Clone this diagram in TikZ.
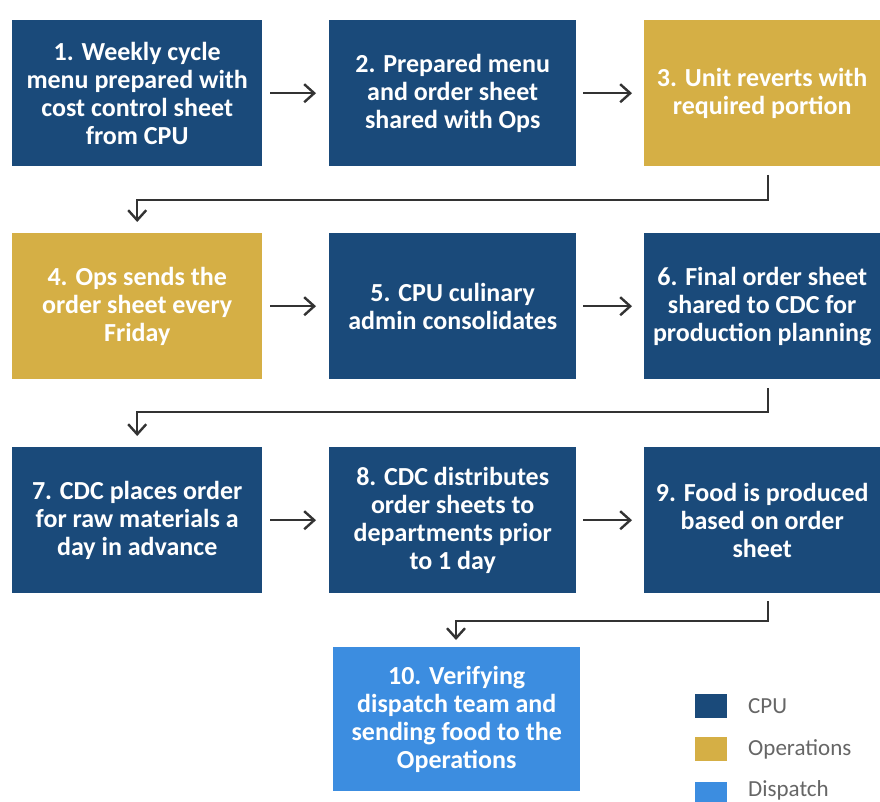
\documentclass[tikz,border=0pt]{standalone}
\usepackage{fontspec}
\setmainfont{Carlito}
\usetikzlibrary{arrows.meta}
\definecolor{cpu}{HTML}{1A4A7A}
\definecolor{ops}{HTML}{D5AF45}
\definecolor{disp}{HTML}{3C8DE0}
\definecolor{arrowgray}{HTML}{333333}
\definecolor{legtext}{HTML}{666666}
\begin{document}
\begin{tikzpicture}[x=1pt,y=-1pt,
  box/.style={anchor=north west, minimum height=146pt, inner sep=0pt, text=white,
    font=\bfseries\fontsize{26}{28}\selectfont, align=center},
  cpubox/.style={box, fill=cpu},
  opsbox/.style={box, fill=ops},
  dispbox/.style={box, fill=disp},
  conn/.style={line width=2.4pt, draw=arrowgray, -{Straight Barb[length=10pt,width=18pt,line width=2.4pt]}},
  legsq/.style={anchor=north west, minimum width=32pt, minimum height=24pt, inner sep=0pt},
  legtxt/.style={anchor=west, text=legtext, font=\fontsize{23}{26}\selectfont, inner sep=0pt}]
\useasboundingbox[fill=white] (0,0) rectangle (880,802);
% row 1
\node[cpubox, minimum width=250pt] (b1) at (12,20) {1. Weekly cycle\\menu prepared with\\cost control sheet\\from CPU};
\node[cpubox, minimum width=247pt] (b2) at (329,20) {2. Prepared menu\\and order sheet\\shared with Ops};
\node[opsbox, minimum width=236pt] (b3) at (644,20) {3. Unit reverts with\\required portion};
% row 2
\node[opsbox, minimum width=250pt] (b4) at (12,233) {4. Ops sends the\\order sheet every\\Friday};
\node[cpubox, minimum width=247pt] (b5) at (329,233) {5. CPU culinary\\admin consolidates};
\node[cpubox, minimum width=236pt] (b6) at (644,233) {6. Final order sheet\\shared to CDC for\\production planning};
% row 3
\node[cpubox, minimum width=250pt] (b7) at (12,447) {7. CDC places order\\for raw materials a\\day in advance};
\node[cpubox, minimum width=247pt] (b8) at (329,447) {8. CDC distributes\\order sheets to\\departments prior\\to 1 day};
\node[cpubox, minimum width=236pt] (b9) at (644,447) {9. Food is produced\\based on order\\sheet};
% row 4
\node[dispbox, minimum width=247pt, minimum height=144pt] (b10) at (333,647) {10. Verifying\\dispatch team and\\sending food to the\\Operations};
% horizontal connectors
\draw[conn, shorten <=8pt, shorten >=13pt] (b1) -- (b2);
\draw[conn, shorten <=7pt, shorten >=12pt] (b2) -- (b3);
\draw[conn, shorten <=8pt, shorten >=13pt] (b4) -- (b5);
\draw[conn, shorten <=7pt, shorten >=12pt] (b5) -- (b6);
\draw[conn, shorten <=8pt, shorten >=13pt] (b7) -- (b8);
\draw[conn, shorten <=7pt, shorten >=12pt] (b8) -- (b9);
% elbow connectors
\coordinate (s1) at (768,175);
\coordinate (r1) at (0,200);
\draw[conn, shorten >=11pt] (s1) |- (b4.north |- r1) -- (b4.north);
\coordinate (s2) at (768,388);
\coordinate (r2) at (0,412);
\draw[conn, shorten >=11pt] (s2) |- (b7.north |- r2) -- (b7.north);
\coordinate (s3) at (768,601);
\coordinate (r3) at (0,621);
\coordinate (t3) at (456,647);
\draw[conn, shorten >=7pt] (s3) |- (t3 |- r3) -- (t3);
% legend
\node[legsq, fill=cpu] (l1) at (695,694) {};
\node[legtxt] (lt1) at (748,706) {CPU};
\node[legsq, fill=ops] (l2) at (695,737) {};
\node[legtxt] (lt2) at (748,749) {Operations};
\node[legsq, fill=disp] (l3) at (695,782) {};
\node[legtxt] (lt3) at (748,790) {Dispatch};
\end{tikzpicture}
\end{document}
